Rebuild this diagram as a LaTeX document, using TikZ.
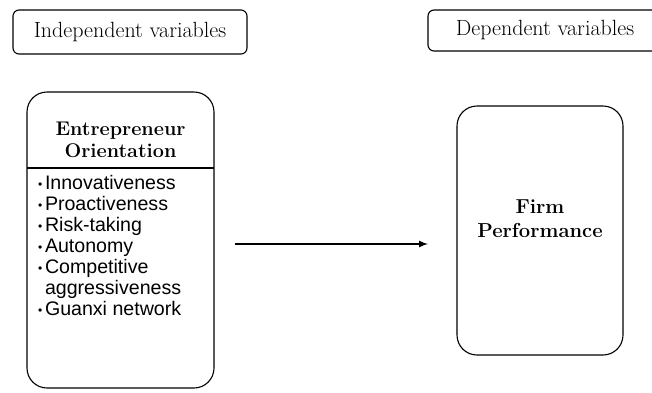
\documentclass[tikz,border=0pt]{standalone}
\usepackage{fontspec}
\setsansfont{Liberation Sans}
\usetikzlibrary{arrows,positioning}

\newcommand{\itm}[1]{\makebox[7pt][l]{\raisebox{1pt}{\fontsize{12}{12}\selectfont•}}#1}
\newcommand{\cnt}[1]{\makebox[7pt][l]{}#1}

\begin{document}
\begin{tikzpicture}[x=1pt,y=-1pt,->,>=latex,semithick]
  \tikzstyle{every node}=[inner sep=0pt,outer sep=0pt]
  \tikzstyle{headbox}=[draw,-,rounded corners=6pt,line width=1.1pt,minimum width=234pt,
    font=\fontsize{22}{24}\selectfont]
  \tikzstyle{varbox}=[draw,-,rounded corners=20pt,line width=1.1pt]
  \tikzstyle{title}=[align=center,font=\bfseries\fontsize{19.8}{22}\selectfont]

  \clip (0,0) rectangle (652,392);
  \fill[white] (0,0) rectangle (652,392);

  % header boxes
  \node[headbox,minimum height=44pt] (indep) at (130,32) {Independent variables};
  \node[headbox,minimum height=41pt] (dep) at (545,30.5) {Dependent variables};

  % independent variable
  \node[varbox,minimum width=187pt,minimum height=296pt] (eo) at (120.5,240) {};
  \node[title] (eotitle) at (120.5,140) {Entrepreneur\\Orientation};
  \coordinate (divL) at (27,168);
  \coordinate (divR) at (214,168);
  \draw[-,line width=1.1pt] (divL) -- (divR);
  \node[align=left,anchor=north west,font=\sffamily\fontsize{19.6}{21}\selectfont]
    (eolist) at (38,175) {\itm{Innovativeness}\\ \itm{Proactiveness}\\ \itm{Risk-taking}\\
      \itm{Autonomy}\\ \itm{Competitive}\\ \cnt{aggressiveness}\\ \itm{Guanxi network}};

  % dependent variable
  \node[varbox,minimum width=166pt,minimum height=249pt] (fp) at (540,230.5) {};
  \node[title,font=\bfseries\fontsize{20.2}{24}\selectfont] (fptitle) at (540,219) {Firm\\Performance};

  % relation
  \draw[line width=2pt,shorten <=21pt,shorten >=29pt] (eo.east |- 0,244) -- (fp.west |- 0,244);
\end{tikzpicture}
\end{document}
